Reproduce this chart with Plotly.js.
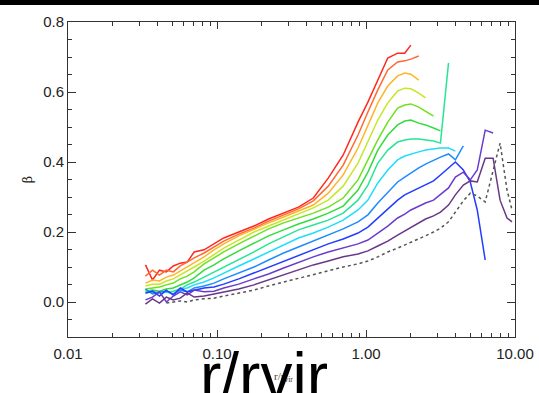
<!DOCTYPE html>
<html>
<head>
<meta charset="utf-8">
<script src="https://cdn.plot.ly/plotly-3.0.1.min.js"></script>
<style>html,body{margin:0;padding:0;background:#fff;}#chart{width:539px;height:393px;}</style>
</head>
<body>
<div id="chart"></div>
<script>
// radius grid r/rvir (log spaced)
const r = [0.0331,0.0369,0.0411,0.0457,0.0509,0.0567,0.0631,0.0703,0.0819,0.0955,0.111,0.140,0.177,0.222,0.280,0.352,0.443,0.558,0.703,0.884,1.03,1.20,1.40,1.63,1.82,2.00,2.26,2.51,2.84,3.16,3.58,3.98,4.50,5.01,5.58,6.31,7.13,7.94,8.84,9.55];

// beta profiles, red (top) to purple, plus dotted reference
const betaRed = [0.106,0.063,0.091,0.086,0.103,0.111,0.114,0.143,0.149,0.166,0.183,0.200,0.217,0.237,0.254,0.271,0.297,0.354,0.420,0.514,0.571,0.634,0.697,0.711,0.711,0.734];
const betaOrangeRed = [0.074,0.091,0.077,0.091,0.086,0.103,0.114,0.126,0.140,0.157,0.174,0.194,0.211,0.231,0.249,0.266,0.289,0.331,0.391,0.477,0.543,0.606,0.663,0.686,0.689,0.694,0.703];
const betaOrange = [0.054,0.063,0.060,0.071,0.077,0.089,0.100,0.111,0.129,0.149,0.166,0.189,0.209,0.226,0.243,0.260,0.277,0.311,0.363,0.440,0.506,0.569,0.617,0.646,0.654,0.651,0.634];
const betaYellow = [0.046,0.051,0.051,0.060,0.066,0.077,0.089,0.100,0.117,0.137,0.154,0.177,0.200,0.217,0.234,0.251,0.269,0.291,0.331,0.397,0.457,0.520,0.569,0.603,0.611,0.609,0.597,0.583];
const betaGreen = [0.037,0.040,0.043,0.049,0.054,0.066,0.074,0.086,0.109,0.126,0.143,0.166,0.189,0.209,0.226,0.240,0.254,0.271,0.297,0.349,0.406,0.463,0.514,0.554,0.563,0.566,0.557,0.546,0.531];
const betaGreen2 = [0.031,0.034,0.031,0.037,0.040,0.049,0.057,0.069,0.091,0.106,0.123,0.146,0.169,0.189,0.206,0.223,0.237,0.254,0.274,0.320,0.371,0.434,0.477,0.506,0.517,0.520,0.511,0.506,0.497,0.489];
const betaMint = [0.026,0.029,0.026,0.029,0.031,0.037,0.049,0.057,0.071,0.086,0.100,0.120,0.143,0.166,0.186,0.206,0.220,0.234,0.254,0.291,0.334,0.397,0.434,0.457,0.463,0.466,0.466,0.463,0.460,0.454,0.683];
const betaCyan = [0.034,0.029,0.026,0.029,0.023,0.037,0.040,0.049,0.057,0.069,0.083,0.103,0.123,0.143,0.163,0.183,0.197,0.214,0.234,0.263,0.291,0.340,0.377,0.406,0.417,0.423,0.429,0.434,0.437,0.440,0.440,0.431];
const betaAzure = [0.037,0.023,0.029,0.031,0.023,0.034,0.029,0.040,0.046,0.054,0.066,0.083,0.100,0.120,0.140,0.157,0.174,0.191,0.209,0.229,0.249,0.283,0.314,0.343,0.357,0.369,0.383,0.394,0.406,0.414,0.423,0.406,0.446];
const betaBlue = [0.026,0.031,0.017,0.034,0.020,0.040,0.029,0.034,0.040,0.043,0.051,0.066,0.083,0.100,0.117,0.134,0.149,0.166,0.180,0.197,0.214,0.240,0.266,0.291,0.306,0.314,0.326,0.334,0.346,0.363,0.383,0.400,0.377,0.343,0.263,0.120];
const betaIndigo = [0.006,0.014,0.029,0.000,0.017,0.029,0.020,0.034,0.029,0.031,0.040,0.051,0.066,0.080,0.097,0.114,0.129,0.143,0.154,0.166,0.177,0.197,0.217,0.240,0.251,0.263,0.274,0.283,0.291,0.306,0.326,0.357,0.371,0.349,0.377,0.491,0.483];
const betaPurple = [-0.006,0.009,-0.003,0.014,0.006,0.011,0.026,0.014,0.017,0.023,0.029,0.037,0.049,0.063,0.077,0.091,0.106,0.117,0.129,0.137,0.146,0.160,0.174,0.191,0.203,0.214,0.226,0.237,0.246,0.257,0.277,0.306,0.334,0.346,0.343,0.411,0.411,0.291,0.240,0.229];
const betaDotted = [null,null,null,-0.003,0.000,0.003,0.000,0.006,0.009,0.011,0.017,0.026,0.034,0.046,0.057,0.069,0.080,0.091,0.100,0.109,0.117,0.129,0.143,0.154,0.163,0.169,0.180,0.189,0.200,0.211,0.229,0.257,0.289,0.311,0.303,0.286,0.371,0.454,0.320,0.263];

const xTickVals = [0.01, 0.1, 1, 10];
const xTickText = ['0.01', '0.10', '1.00', '10.00'];
const yTickVals = [0.0, 0.2, 0.4, 0.6, 0.8];

const series = [
  [betaRed, 'rgb(255,40,30)', 'solid'],
  [betaOrangeRed, 'rgb(255,105,50)', 'solid'],
  [betaOrange, 'rgb(255,180,40)', 'solid'],
  [betaYellow, 'rgb(200,230,40)', 'solid'],
  [betaGreen, 'rgb(110,225,30)', 'solid'],
  [betaGreen2, 'rgb(50,220,60)', 'solid'],
  [betaMint, 'rgb(40,228,150)', 'solid'],
  [betaCyan, 'rgb(30,222,250)', 'solid'],
  [betaAzure, 'rgb(30,140,255)', 'solid'],
  [betaBlue, 'rgb(35,60,255)', 'solid'],
  [betaIndigo, 'rgb(105,60,205)', 'solid'],
  [betaPurple, 'rgb(105,55,135)', 'solid'],
  [betaDotted, 'rgb(85,85,85)', 'dot']
];

const traces = series.map(([b, c, d]) => ({
  x: r.slice(0, b.length), y: b, type: 'scatter', mode: 'lines',
  line: {color: c, width: 1.5, dash: d}, connectgaps: false, hoverinfo: 'skip'
}));

const minorX = [];
[0.01, 0.1, 1].forEach(dec => { for (let k = 2; k <= 9; k++) minorX.push(+(dec * k).toPrecision(3)); });

const font = {family: 'Liberation Sans, Arial, Helvetica, sans-serif', size: 15, color: '#222'};

const layout = {
  width: 539, height: 393,
  margin: {l: 68, r: 24, t: 22, b: 56},
  paper_bgcolor: '#fff', plot_bgcolor: '#fff',
  showlegend: false,
  font: font,
  xaxis: {
    type: 'log', range: [-2, 1], autorange: false,
    tickmode: 'array', tickvals: xTickVals, ticktext: xTickText,
    ticks: 'inside', ticklen: 7, tickwidth: 1, tickcolor: '#333',
    showline: true, linecolor: '#333', linewidth: 1, mirror: 'allticks',
    showgrid: false, zeroline: false, ticklabelstandoff: 3,
    minor: {tickmode: 'array', tickvals: minorX, ticks: 'inside', ticklen: 4, tickcolor: '#333', showgrid: false},
    tickfont: font
  },
  yaxis: {
    range: [-0.1, 0.8], autorange: false,
    tickmode: 'array', tickvals: yTickVals, tickformat: '.1f',
    ticks: 'inside', ticklen: 8, tickwidth: 1, tickcolor: '#333',
    showline: true, linecolor: '#333', linewidth: 1, mirror: 'allticks',
    showgrid: false, zeroline: false,
    minor: {dtick: 0.05, ticks: 'inside', ticklen: 4, tickcolor: '#333', showgrid: false},
    tickfont: font,
    title: {text: 'β', font: {family: 'DejaVu Serif, serif', size: 13, color: '#222'}, standoff: 7}
  },
  shapes: [
    {type: 'rect', xref: 'paper', yref: 'paper', x0: -0.2, x1: 1.2, y0: 1.054, y1: 1.1, fillcolor: '#000', line: {width: 0}, layer: 'above'}
  ],
  annotations: [
    {xref: 'paper', yref: 'paper', x: 0.482, y: -0.127, xanchor: 'center', yanchor: 'middle', showarrow: false,
     text: 'r/r<sub>vir</sub>', font: {family: 'Liberation Serif, serif', size: 11, color: '#444'}},
    {xref: 'paper', yref: 'paper', x: 0.4385, y: -0.125, xanchor: 'center', yanchor: 'middle', showarrow: false,
     text: 'r/rvir', font: {family: 'Liberation Sans, Arial, sans-serif', size: 64, color: '#000'}}
  ]
};

Plotly.newPlot('chart', traces, layout, {staticPlot: true, displayModeBar: false});
</script>
</body>
</html>
